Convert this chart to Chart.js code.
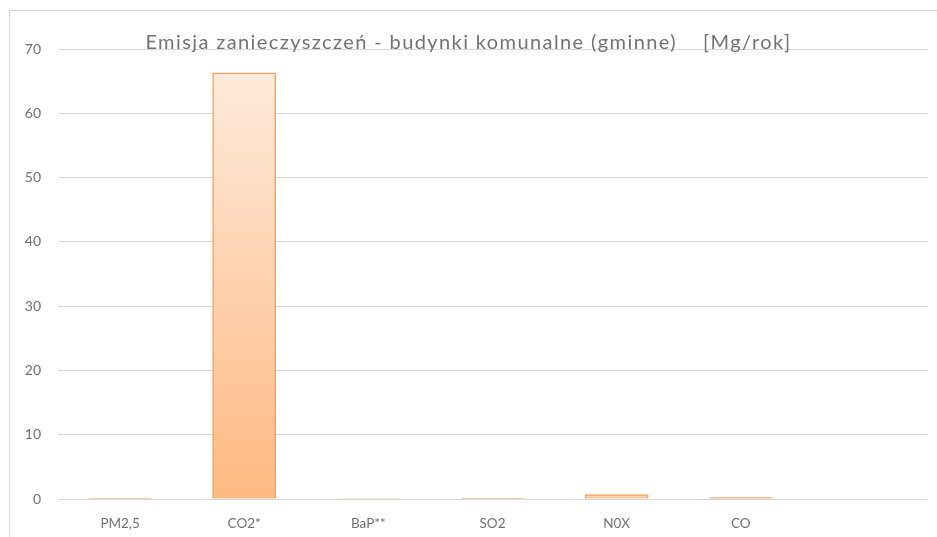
<!DOCTYPE html>
<html><head><meta charset="utf-8">
<script src="https://cdn.jsdelivr.net/npm/chart.js@4/dist/chart.umd.min.js"></script>
<style>
html,body{margin:0;padding:0;background:#fff;overflow:hidden;width:937px;height:537px}
#frame{position:absolute;left:9px;top:10px;border-left:1px solid #d9d9d9;border-top:1px solid #d9d9d9;width:932px;height:530px}
canvas{display:block}
</style></head><body>
<div id="frame"><canvas id="c" width="932" height="530"></canvas></div>
<script>
const categories = ['PM2,5', 'CO2*', 'BaP**', 'SO2', 'N0X', 'CO', ''];
const emissions = [0.14, 66.3, 0.0002, 0.12, 0.68, 0.2, null];
const yTicks = [0, 10, 20, 30, 40, 50, 60, 70];
const chartTitle = 'Emisja zanieczyszczeń - budynki komunalne (gminne)    [Mg/rok]';

function barGradient(ctx) {
  const chart = ctx.chart;
  if (!chart.chartArea || ctx.type !== 'data' || ctx.raw == null) return '#F7BE90';
  const y = chart.scales.y;
  const top = y.getPixelForValue(ctx.raw), bot = y.getPixelForValue(0);
  if (bot - top < 2) return '#F7BE90';
  const g = chart.ctx.createLinearGradient(0, top, 0, bot);
  g.addColorStop(0, '#FFEADB');
  g.addColorStop(1, '#FFB982');
  return g;
}

function draw() {
  const chart = new Chart(document.getElementById('c'), {
    type: 'bar',
    data: {
      labels: categories,
      datasets: [{
        data: emissions,
        backgroundColor: barGradient,
        borderColor: '#F3A15C',
        borderWidth: 1.5,
        inflateAmount: ctx => (ctx.raw != null && ctx.raw < 0.01) ? 0 : 0.4,
        categoryPercentage: 1,
        barPercentage: 0.508
      }]
    },
    options: {
      responsive: false,
      devicePixelRatio: 1,
      animation: false,
      layout: { padding: { left: 0, right: 15, top: 0, bottom: 0 } },
      plugins: {
        legend: { display: false },
        tooltip: { enabled: false },
        title: {
          display: true,
          text: chartTitle,
          color: '#737373',
          font: { family: 'Lato', size: 20, weight: 'normal', lineHeight: 1.2 },
          padding: { top: 20, bottom: -6 }
        }
      },
      scales: {
        x: {
          grid: { display: false },
          border: { display: false },
          ticks: {
            color: '#727272',
            font: { family: 'Lato', size: 13.5 },
            padding: 9,
            maxRotation: 0,
            autoSkip: false
          },
          afterFit: s => { s.height = 42; }
        },
        y: {
          min: 0,
          max: 70,
          border: { display: false },
          grid: { color: '#d9d9d9', lineWidth: 1, drawTicks: false },
          ticks: {
            color: '#727272',
            font: { family: 'Lato', size: 14 },
            padding: 17
          },
          afterBuildTicks: s => { s.ticks = yTicks.map(v => ({ value: v })); },
          afterFit: s => { s.width = 48; }
        }
      }
    }
  });
  // Slightly expanded character spacing, as in the reference title
  const tb = chart.titleBlock;
  if (tb) {
    const orig = tb.draw.bind(tb);
    tb.draw = function () {
      const c = this.ctx;
      const prev = c.letterSpacing;
      if ('letterSpacing' in c) c.letterSpacing = '1.4px';
      orig();
      if ('letterSpacing' in c) c.letterSpacing = prev || '0px';
    };
    chart.draw();
  }
}
if (document.fonts && document.fonts.load) {
  Promise.all([document.fonts.load('20px Lato'), document.fonts.load('14px Lato')]).then(draw, draw);
} else { draw(); }
</script>
</body></html>
